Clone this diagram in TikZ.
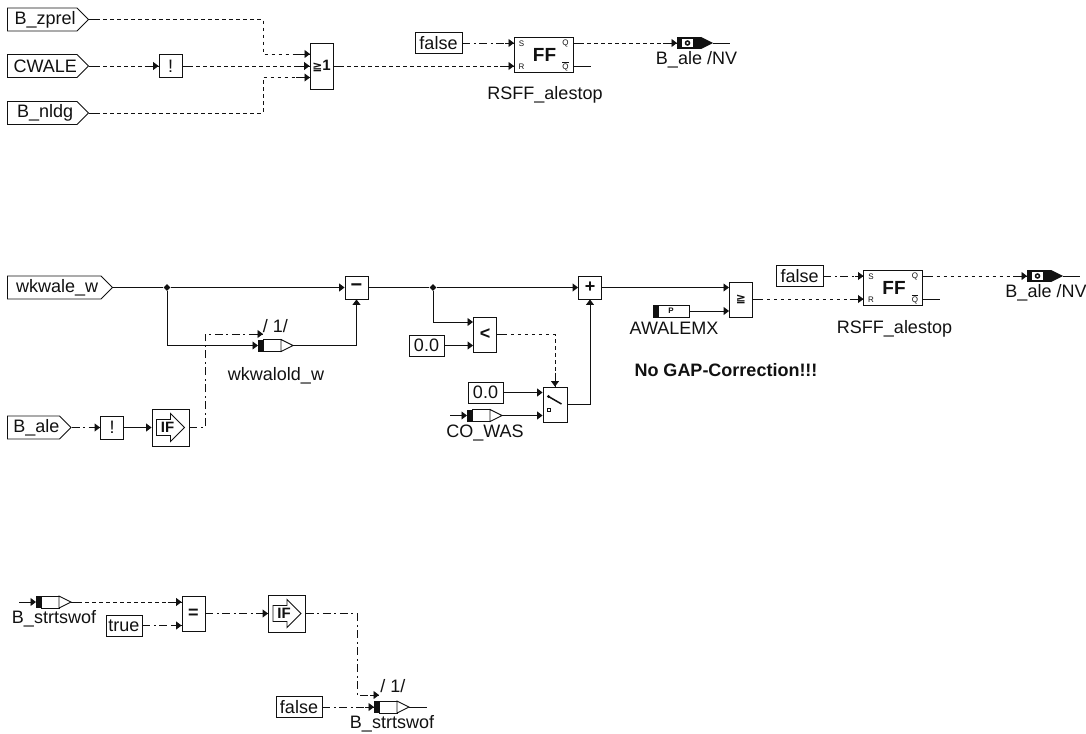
\documentclass[tikz,border=0pt]{standalone}
\usepackage{fontspec}
\setmainfont{Liberation Sans}
\newfontfamily\bdsym{DejaVu Sans}
\usetikzlibrary{arrows.meta,decorations.markings,shapes.geometric,shapes.symbols}
\definecolor{bdInk}{HTML}{111111}
\newcommand{\bdsize}[1]{\fontsize{#1}{#1}\selectfont}
\tikzset{
  bd diagram/.style={x=1pt, y=-1pt, font=\bdsize{18}, text=bdInk, line join=miter},
  bd line/.style={draw=bdInk, line width=0.9pt},
  bd arrow/.style={bd line, -{Triangle[length=5.5pt,width=8pt]}},
  bd stub/.style={postaction={decorate, decoration={markings,
    mark=at position 0 with {\draw[bd line,solid,-] (0,0) -- (8,0);},
    mark=at position 1 with {\draw[bd line,solid,-] (-#1,0) -- (0,0);}}}},
  bd dash/.style={bd arrow, dash pattern=on 3.5pt off 3.5pt, bd stub=14},
  bd dashdot/.style={bd arrow, dash pattern=on 8pt off 3.5pt on 2pt off 3.5pt, bd stub=9},
  bd port/.style={signal, signal to=east, signal from=nowhere, signal pointer angle=90,
    anchor=west, draw=bdInk, line width=0.9pt, fill=white, inner sep=0pt, minimum height=23pt,
    execute at begin node=\hspace{6pt}},
  bd box/.style={draw=bdInk, line width=0.9pt, fill=white, inner sep=0pt, align=center},
  bd fn/.style={bd box, minimum width=23pt, minimum height=35pt, font=\bfseries\bdsize{18}},
  bd small/.style={bd box, minimum width=23pt, minimum height=23pt},
  bd const/.style={bd box, minimum height=21pt},
  bd label/.style={inner sep=0pt},
  bd junction/.style={diamond, fill=bdInk, inner sep=0pt, minimum size=7pt},
  bd ifblock/.pic={
    \node[bd box, minimum width=37pt, minimum height=37pt] (-box) at (0,0) {};
    \draw[bd line] (-14,-8) -- (0,-8) -- (0,-14) -- (14,0) -- (0,14) -- (0,8) -- (-14,8) -- cycle;
    \node[bd label, font=\bfseries\bdsize{15}] (-txt) at (-3,0) {IF};
  },
  bd ff/.pic={
    \node[bd box, minimum width=59pt, minimum height=35pt] (-box) at (0,0) {};
    \node[bd label, font=\bfseries\bdsize{19}] (-txt) at (1,0.5) {FF};
    \node[bd label, font=\bdsize{8}] (-slab) at (-22,-11) {S};
    \node[bd label, font=\bdsize{8}] (-rlab) at (-22,12) {R};
    \node[bd label, font=\bdsize{8}] (-qlab) at (22,-11) {Q};
    \node[bd label, font=\bdsize{8}] (-nlab) at (22,12) {$\overline{\mbox{Q}}$};
    \coordinate (-s) at (-29.5,-11.5);
    \coordinate (-r) at (-29.5,11.5);
    \coordinate (-q) at (29.5,-11.5);
    \coordinate (-n) at (29.5,11.5);
    \coordinate (-nend) at (47,11.5);
  },
  bd sigin/.pic={
    \fill[bdInk] (0,-6) rectangle (5,6);
    \draw[bd line,fill=white] (5,-6) rectangle (23,6);
    \draw[bd line,fill=white] (23,-6) -- (35,0) -- (23,6) -- cycle;
    \coordinate (-in) at (0,0);
    \coordinate (-out) at (35,0);
    \coordinate (-lead) at (-17,0);
    \coordinate (-tail) at (53,0);
  },
  bd sigout/.pic={
    \fill[bdInk] (0,-6) rectangle (24,6);
    \fill[white] (5,-4) rectangle (16,4);
    \fill[bdInk] (24,-6) -- (36,0) -- (24,6) -- cycle;
    \draw[bdInk,line width=1.5pt] (10.5,0) circle (2pt);
    \coordinate (-in) at (0,0);
    \coordinate (-out) at (36,0);
    \coordinate (-tail) at (53,0);
  },
  bd param/.pic={
    \draw[bd line,fill=white] (0,-6) rectangle (36,6);
    \fill[bdInk] (0,-6) rectangle (6,6);
    \node[bd label, font=\bfseries\bdsize{8}] (-txt) at (18,0) {P};
    \coordinate (-out) at (36,0);
  }
}
\begin{document}
\begin{tikzpicture}[bd diagram]
\useasboundingbox (0,0) rectangle (1086,733);
% top
\node[bd port, minimum width=81pt] (zprel) at (7,19.5) {B\_zprel};
\node[bd port, minimum width=81pt] (cwale) at (7,66) {CWALE};
\node[bd port, minimum width=81pt] (nldg) at (7,113) {B\_nldg};
\node[bd small] (nota) at (170.5,66) {!};
\node[bd fn, minimum height=46pt] (ora) at (321.5,66) {\bdsym\bfseries\bdsize{12}≧\rmfamily\bdsize{15}1};
\coordinate (orbusa) at (263,54);
\coordinate (orbusb) at (263,77.5);
\coordinate (orina) at (310,54);
\coordinate (orinb) at (310,77.5);
\node[bd const, minimum width=47pt] (falsea) at (438.5,43) {false};
\pic (ffa) at (543.5,54.5) {bd ff};
\pic (outa) at (677,43) {bd sigout};
\node[bd label] (lblouta) at (696.5,60) {B\_ale /NV};
\node[bd label] (lblffa) at (545,95) {RSFF\_alestop};
\draw[bd dash] (zprel.east) -| (orbusa) -- (orina);
\draw[bd dash] (cwale.east) -- (nota.west);
\draw[bd dash] (nota.east) -- (ora.west);
\draw[bd dash] (nldg.east) -| (orbusb) -- (orinb);
\draw[bd dash] (ora.east) -- (ffa-r);
\draw[bd dashdot] (falsea.east) -- (ffa-s);
\draw[bd dash] (ffa-q) -- (outa-in);
\draw[bd line] (ffa-n) -- (ffa-nend);
\draw[bd line] (outa-out) -- (outa-tail);
% middle
\node[bd port, minimum width=105pt] (wkwale) at (7,287.5) {wkwale\_w};
\node[bd junction] (wkj) at (167,287.5) {};
\node[bd small] (minus) at (356.5,287.5) {\bfseries\bdsize{20}−};
\pic (wkold) at (258,345.5) {bd sigin};
\node[bd label] (lblwkold) at (276,376) {wkwalold\_w};
\node[bd label] (lblwkone) at (275.5,326) {/ 1/};
\node[bd port, minimum width=58pt] (bale) at (7,427.5) {B\_ale};
\node[bd small] (notb) at (112,427.5) {!};
\pic (ifa) at (170.5,427.5) {bd ifblock};
\coordinate (wkbus) at (205,334);
\coordinate (wkctl) at (263,334);
\node[bd junction] (dj) at (433,287.5) {};
\node[bd small] (plus) at (590,287.5) {\bfseries\bdsize{18}+};
\node[bd fn] (lta) at (485,334.5) {<};
\node[bd const, minimum width=35pt] (zeroa) at (426.5,345.5) {0.0};
\node[bd box, minimum width=24pt, minimum height=35pt] (sw) at (555,404.5) {};
\draw[bdInk,line width=1.5pt] (548.5,396.5) -- (561.5,404);
\fill[bdInk] (548.5,396.5) circle (1.6pt);
\draw[bdInk,line width=0.8pt] (547.8,408.5) rectangle (550.8,411.5);
\node[bd const, minimum width=35pt] (zerob) at (485.5,392.5) {0.0};
\pic (cowas) at (467,415.5) {bd sigin};
\node[bd label] (lblcowas) at (485,433) {CO\_WAS};
\node[bd fn] (gea) at (741,299.5) {\bdsym\bfseries\bdsize{12}≧};
\pic (awale) at (653,311) {bd param};
\node[bd label] (lblawale) at (674,328) {AWALEMX};
\node[bd const, minimum width=47pt] (falseb) at (799.5,276) {false};
\pic (ffb) at (893,287.5) {bd ff};
\pic (outb) at (1027,276) {bd sigout};
\node[bd label] (lbloutb) at (1046,293) {B\_ale /NV};
\node[bd label] (lblffb) at (894.5,329) {RSFF\_alestop};
\node[bd label, font=\bfseries\bdsize{18}] (gapnote) at (726,370) {No GAP-Correction!!!};
\coordinate (ltina) at (473,322);
\coordinate (gein) at (729,287.5);
\draw[bd line] (wkwale.east) -- (wkj);
\draw[bd arrow] (wkj) -- (minus.west);
\draw[bd arrow] (wkj) |- (wkold-in);
\draw[bd arrow] (wkold-out) -| (minus.south);
\draw[bd dashdot] (bale.east) -- (notb.west);
\draw[bd arrow] (notb.east) -- (ifa-box.west);
\draw[bd dashdot] (ifa-box.east) -| (wkbus) -- (wkctl);
\draw[bd line] (minus.east) -- (dj);
\draw[bd arrow] (dj) -- (plus.west);
\draw[bd arrow] (dj) |- (ltina);
\draw[bd arrow] (zeroa.east) -- (lta.west |- zeroa);
\draw[bd dash] (lta.east) -| (sw.north);
\draw[bd arrow] (zerob.east) -- (sw.west |- zerob);
\draw[bd arrow] (cowas-lead) -- (cowas-in);
\draw[bd arrow] (cowas-out) -- (sw.west |- cowas-out);
\draw[bd arrow] (sw.east) -| (plus.south);
\draw[bd arrow] (plus.east) -- (gein);
\draw[bd arrow] (awale-out) -- (gea.west |- awale-out);
\draw[bd dash] (gea.east |- ffb-r) -- (ffb-r);
\draw[bd dashdot] (falseb.east) -- (ffb-s);
\draw[bd dash] (ffb-q) -- (outb-in);
\draw[bd line] (ffb-n) -- (ffb-nend);
\draw[bd line] (outb-out) -- (outb-tail);
% bottom
\pic (stin) at (36,602) {bd sigin};
\node[bd label] (lblstin) at (54,619) {B\_strtswof};
\node[bd const, minimum width=36pt] (truea) at (124,625.5) {true};
\node[bd fn] (eqa) at (193.5,613.5) {=};
\pic (ifb) at (287,613.5) {bd ifblock};
\coordinate (stbus) at (357,695);
\coordinate (stctl) at (379,695);
\node[bd const, minimum width=46pt] (falsec) at (299,707) {false};
\pic (stout) at (374,707) {bd sigin};
\node[bd label] (lblstout) at (392,724) {B\_strtswof};
\node[bd label] (lblstone) at (393,686) {/ 1/};
\draw[bd arrow] (stin-lead) -- (stin-in);
\draw[bd dash] (stin-out) -- (eqa.west |- stin-out);
\draw[bd dashdot] (truea.east) -- (eqa.west |- truea);
\draw[bd dashdot] (eqa.east) -- (ifb-box.west);
\draw[bd dashdot] (ifb-box.east) -| (stbus) -- (stctl);
\draw[bd dashdot] (falsec.east) -- (stout-in);
\draw[bd line] (stout-out) -- (stout-tail);
\end{tikzpicture}
\end{document}
